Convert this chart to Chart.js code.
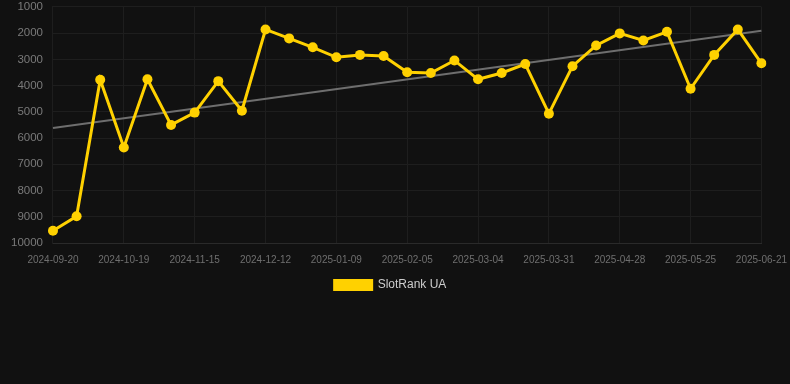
<!DOCTYPE html>
<html><head><meta charset="utf-8">
<script src="https://cdn.jsdelivr.net/npm/chart.js@4.4.0/dist/chart.umd.min.js"></script>
<style>
html,body{margin:0;padding:0;background:#111111;width:790px;height:384px;overflow:hidden}
#wrap{position:relative;width:790px;height:311px;margin-top:-10px}
</style></head>
<body><div id="wrap"><canvas id="c"></canvas></div>
<script>
const labels = ["2024-09-20","2024-09-30","2024-10-09","2024-10-19","2024-10-28","2024-11-06","2024-11-15","2024-11-24","2024-12-03","2024-12-12","2024-12-21","2024-12-31","2025-01-09","2025-01-18","2025-01-27","2025-02-05","2025-02-14","2025-02-23","2025-03-04","2025-03-13","2025-03-22","2025-03-31","2025-04-09","2025-04-18","2025-04-28","2025-05-07","2025-05-16","2025-05-25","2025-06-03","2025-06-12","2025-06-21"];
const rankValues = [9530,8980,3780,6360,3760,5500,5030,3830,4960,1860,2200,2540,2920,2830,2870,3490,3520,3040,3760,3520,3180,5070,3260,2470,2010,2280,1950,4120,2830,1860,3150];
const trendValues = [5620,null,null,null,null,null,null,null,null,null,null,null,null,null,null,null,null,null,null,null,null,null,null,null,null,null,null,null,null,null,1910];
const yTicks = [1000,2000,3000,4000,5000,6000,7000,8000,9000,10000];

const legendShift = {
  id: 'legendShift',
  afterUpdate(chart) {
    if (chart.legend) { chart.legend.left -= 5; chart.legend.right -= 5; }
  }
};

new Chart(document.getElementById('c'), {
  type: 'line',
  data: {
    labels: labels,
    datasets: [
      {label: 'SlotRank UA', data: rankValues, borderColor: '#FFD100', backgroundColor: '#FFD100',
       borderWidth: 3, pointRadius: 5, pointHoverRadius: 5, pointBackgroundColor: '#FFD100', pointBorderWidth: 0, tension: 0, order: 1},
      {label: 'trend', data: trendValues, borderColor: '#6e6e6e', borderWidth: 2, pointRadius: 0, spanGaps: true, tension: 0, order: 2}
    ]
  },
  plugins: [legendShift],
  options: {
    responsive: true, maintainAspectRatio: false, animation: false,
    layout: {padding: {top: 0, left: 1, right: 0}},
    scales: {
      x: {
        grid: {color: '#1e1e1e', drawTicks: true, tickLength: 8, tickColor: 'rgba(0,0,0,0)'},
        border: {color: '#2a2a2a'},
        ticks: {color: '#6f6f6f', font: {family: 'Liberation Sans, Arial', size: 10}, maxRotation: 0, autoSkip: false, padding: 3,
          callback: function(v, i){ return i % 3 === 0 ? labels[i] : null; }}
      },
      y: {
        reverse: true, min: 1000, max: 10000,
        afterBuildTicks: function(axis){ axis.ticks = yTicks.map(v => ({value: v})); },
        grid: {color: '#1e1e1e', drawTicks: false},
        border: {color: '#1e1e1e'},
        ticks: {color: '#7a7a7a', font: {family: 'Liberation Sans, Arial', size: 11.5}, padding: 10,
          callback: function(v){ return String(v); }}
      }
    },
    plugins: {
      legend: {position: 'bottom',
        labels: {color: '#cccccc', boxWidth: 37, boxHeight: 9, padding: 10, font: {family: 'Liberation Sans, Arial', size: 12},
          filter: item => item.text !== 'trend'}},
      tooltip: {enabled: false}
    }
  }
});
</script></body></html>
